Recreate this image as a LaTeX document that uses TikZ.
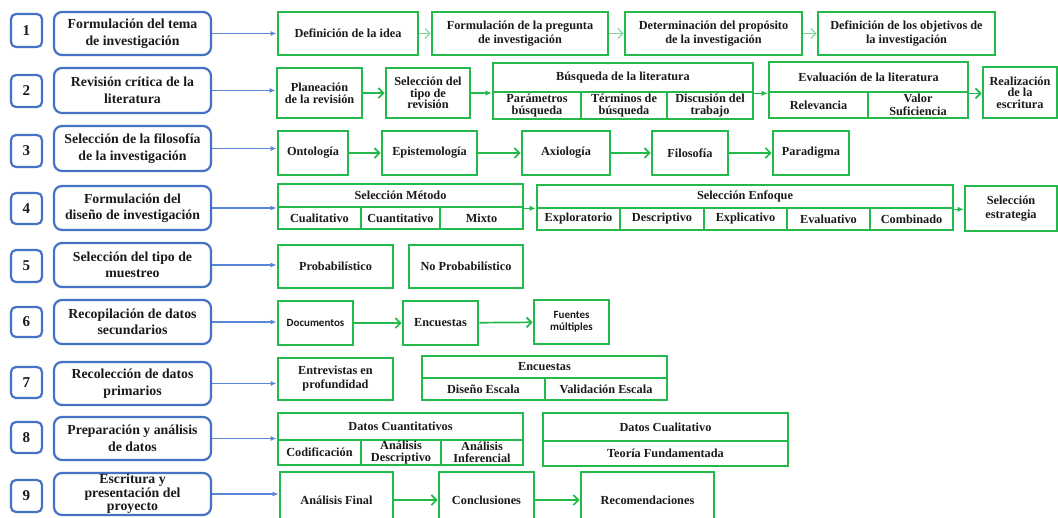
\documentclass[tikz,border=0pt]{standalone}
\usepackage{fontspec}
\setmainfont{Liberation Serif}
\newfontfamily\carl{Carlito}
\usetikzlibrary{arrows.meta}
\definecolor{bl}{HTML}{4472C4}
\definecolor{bla}{HTML}{5A86D6}
\definecolor{gr}{HTML}{22B84A}
\definecolor{grl}{HTML}{80D498}
\definecolor{tx}{HTML}{1A1A1A}
\newcommand{\placebox}[7][]{%
  \pgfmathsetmacro{\pbW}{#5-#3}\pgfmathsetmacro{\pbH}{#6-#4}%
  \pgfmathsetmacro{\pbX}{(#3+#5)/2}\pgfmathsetmacro{\pbY}{(#4+#6)/2}%
  \node[#1, minimum width=\pbW pt, minimum height=\pbH pt] (#2) at (\pbX,\pbY) {#7};}
\tikzset{
  num/.style={draw=bl, line width=2.2pt, rounded corners=5pt, inner sep=0pt, font=\fontsize{15}{15}\selectfont\bfseries, text=tx},
  bbox/.style={draw=bl, line width=2.2pt, rounded corners=8pt, inner sep=0pt, align=center, font=\fontsize{13.8}{16.5}\selectfont\bfseries, text=tx},
  gbox/.style={draw=gr, line width=2.7pt, inner sep=0pt, align=center, font=\fontsize{12.3}{13.5}\selectfont\bfseries, text=tx},
  tight/.style={font=\fontsize{12.3}{11.6}\selectfont\bfseries},
  mid/.style={font=\fontsize{12.3}{12.5}\selectfont\bfseries},
  loose/.style={font=\fontsize{12.3}{14.5}\selectfont\bfseries},
  sans/.style={font=\carl\fontsize{11}{12}\selectfont\bfseries},
  barrow/.style={draw=bla, line width=1.2pt, -{Latex[length=6pt,width=5pt]}},
  garrow/.style={draw=gr, line width=1.7pt, -{Straight Barb[length=5pt,width=10pt]}},
  glarrow/.style={draw=grl, line width=1pt, -{Straight Barb[length=5pt,width=10pt]}},
  gfarrow/.style={draw=gr, line width=1.4pt, -{Latex[length=6pt,width=5.5pt]}}
}
\begin{document}
\begin{tikzpicture}[x=1pt,y=-1pt]
\useasboundingbox (0,0) rectangle (1058,517);
\fill[white] (0,0) rectangle (1058,517);
\clip (0,0) rectangle (1058,517);

% number boxes
\placebox[num]{n1}{11}{14}{42}{47}{1}
\placebox[num]{n2}{11}{75}{42}{107}{2}
\placebox[num]{n3}{11}{135}{42}{167}{3}
\placebox[num]{n4}{11}{193}{42}{224}{4}
\placebox[num]{n5}{11}{250}{42}{282}{5}
\placebox[num]{n6}{11}{307}{42}{337}{6}
\placebox[num]{n7}{11}{367}{42}{398}{7}
\placebox[num]{n8}{11}{422}{42}{453}{8}
\placebox[num]{n9}{11}{480}{42}{512}{9}

% blue step boxes
\placebox[bbox]{b1}{54}{12}{211}{55}{Formulación del tema\\de investigación}
\placebox[bbox]{b2}{54}{68}{211}{113}{Revisión crítica de la\\literatura}
\placebox[bbox]{b3}{54}{126}{211}{171}{Selección de la filosofía\\de la investigación}
\placebox[bbox]{b4}{54}{186}{211}{230}{Formulación del\\diseño de investigación}
\placebox[bbox]{b5}{54}{243}{211}{287}{Selección del tipo de\\muestreo}
\placebox[bbox]{b6}{54}{300}{211}{344}{Recopilación de datos\\secundarios}
\placebox[bbox]{b7}{54}{362}{211}{405}{Recolección de datos\\primarios}
\placebox[bbox]{b8}{54}{417}{211}{460}{Preparación y análisis\\de datos}
\placebox[bbox,font=\fontsize{13.8}{13.5}\selectfont\bfseries]{b9}{54}{473}{211}{515}{Escritura y\\presentación del\\proyecto}

% row 1
\placebox[gbox]{g11}{278}{12}{418}{55}{Definición de la idea}
\placebox[gbox]{g12}{432}{12}{608}{55}{Formulación de la pregunta\\de investigación}
\placebox[gbox]{g13}{625}{12}{802}{55}{Determinación del propósito\\de la investigación}
\placebox[gbox]{g14}{818}{12}{995}{55}{Definición de los objetivos de\\la investigación}

% row 2
\placebox[gbox,tight]{plan}{277}{68}{362}{118}{Planeación\\de la revisión}
\placebox[gbox,tight]{sel}{386}{68}{470}{118}{Selección del\\tipo de\\revisión}
\placebox[gbox]{bh}{493}{63}{753}{92}{Búsqueda de la literatura}
\placebox[gbox,mid]{bc1}{493}{92}{581}{119}{Parámetros\\búsqueda}
\placebox[gbox,mid]{bc2}{581}{92}{667}{119}{Términos de\\búsqueda}
\placebox[gbox,mid]{bc3}{667}{92}{753}{119}{Discusión del\\trabajo}
\placebox[gbox]{eh}{769}{62}{968}{92}{Evaluación de la literatura}
\placebox[gbox]{ec1}{769}{92}{868}{118}{Relevancia}
\placebox[gbox,mid]{ec2}{868}{92}{968}{118}{Valor\\Suficiencia}
\placebox[gbox,tight]{real}{983}{67}{1057}{118}{Realización\\de la\\escritura}

% row 3
\placebox[gbox]{ont}{278}{131}{348}{175}{Ontología}
\placebox[gbox]{epi}{382}{131}{477}{175}{Epistemología}
\placebox[gbox]{axi}{522}{131}{610}{175}{Axiología}
\placebox[gbox]{fil}{652}{131}{728}{175}{Filosofía}
\placebox[gbox]{par}{773}{131}{849}{175}{Paradigma}

% row 4
\placebox[gbox]{mh}{278}{184}{523}{207}{Selección Método}
\placebox[gbox]{mc1}{278}{207}{361}{229}{Cualitativo}
\placebox[gbox]{mc2}{361}{207}{440}{229}{Cuantitativo}
\placebox[gbox]{mc3}{440}{207}{523}{229}{Mixto}
\placebox[gbox]{enh}{537}{185}{953}{208}{Selección Enfoque}
\placebox[gbox]{en1}{537}{208}{620}{230}{Exploratorio}
\placebox[gbox]{en2}{620}{208}{704}{230}{Descriptivo}
\placebox[gbox]{en3}{704}{208}{787}{230}{Explicativo}
\placebox[gbox]{en4}{787}{208}{870}{230}{Evaluativo}
\placebox[gbox]{en5}{870}{208}{953}{230}{Combinado}
\placebox[gbox,loose]{est}{965}{186}{1057}{231}{Selección\\estrategia}

% row 5
\placebox[gbox]{prob}{278}{245}{393}{288}{Probabilístico}
\placebox[gbox]{nprob}{409}{245}{523}{288}{No Probabilístico}

% row 6
\placebox[gbox,sans]{doc}{278}{301}{353}{345}{Documentos}
\placebox[gbox]{enc}{403}{301}{478}{345}{Encuestas}
\placebox[gbox,sans]{fue}{534}{300}{609}{344}{Fuentes\\múltiples}

% row 7
\placebox[gbox,font=\fontsize{12.3}{14}\selectfont\bfseries]{ent}{278}{358}{393}{400}{Entrevistas en\\profundidad}
\placebox[gbox]{e7h}{422}{356}{667}{378}{Encuestas}
\placebox[gbox]{e7a}{422}{378}{545}{400}{Diseño Escala}
\placebox[gbox]{e7b}{545}{378}{667}{400}{Validación Escala}

% row 8
\placebox[gbox]{dqh}{278}{413}{523}{440}{Datos Cuantitativos}
\placebox[gbox]{dq1}{278}{440}{361}{465}{Codificación}
\placebox[gbox,mid]{dq2}{361}{440}{441}{465}{Análisis\\Descriptivo}
\placebox[gbox,mid]{dq3}{441}{440}{523}{465}{Análisis\\Inferencial}
\placebox[gbox]{dlh}{543}{413}{788}{441}{Datos Cualitativo}
\placebox[gbox]{dl1}{543}{441}{788}{466}{Teoría Fundamentada}

% row 9
\placebox[gbox]{af}{280}{472}{393}{528}{Análisis Final}
\placebox[gbox]{con}{439}{472}{534}{528}{Conclusiones}
\placebox[gbox]{rec}{581}{472}{714}{528}{Recomendaciones}

% blue connectors
\draw[barrow] (b1.east) -- (b1.east -| g11.west);
\draw[barrow] (b2.east) -- (b2.east -| plan.west);
\draw[barrow] (b3.east) -- (b3.east -| ont.west);
\draw[barrow] (b4.east) -- (b4.east -| mh.west);
\draw[barrow] (b5.east) -- (b5.east -| prob.west);
\draw[barrow] (b6.east) -- (b6.east -| doc.west);
\draw[barrow] (b7.east) -- (b7.east -| ent.west);
\draw[barrow] (b8.east) -- (b8.east -| dqh.west);
\draw[barrow] (b9.east) -- (b9.east -| af.west);

% green connectors
\draw[glarrow] (g11) -- (g12);
\draw[glarrow] (g12) -- (g13);
\draw[glarrow] (g13) -- (g14);
\draw[garrow] (plan) -- (sel);
\draw[gfarrow] (sel.east) -- (sel.east -| bh.west);
\draw[gfarrow] (bh.south east) -- (bh.south east -| eh.west);
\draw[garrow] (eh.south east) -- (eh.south east -| real.west);
\draw[garrow] (ont) -- (epi);
\draw[garrow] (epi) -- (axi);
\draw[garrow] (axi) -- (fil);
\draw[garrow] (fil) -- (par);
\draw[gfarrow] (mh.south east) -- (mh.south east -| enh.west);
\draw[gfarrow] (enh.south east) -- (enh.south east -| est.west);
\draw[garrow] (doc) -- (enc);
\draw[garrow] (enc) -- (fue);
\draw[garrow] (af) -- (con);
\draw[garrow] (con) -- (rec);
\end{tikzpicture}
\end{document}
